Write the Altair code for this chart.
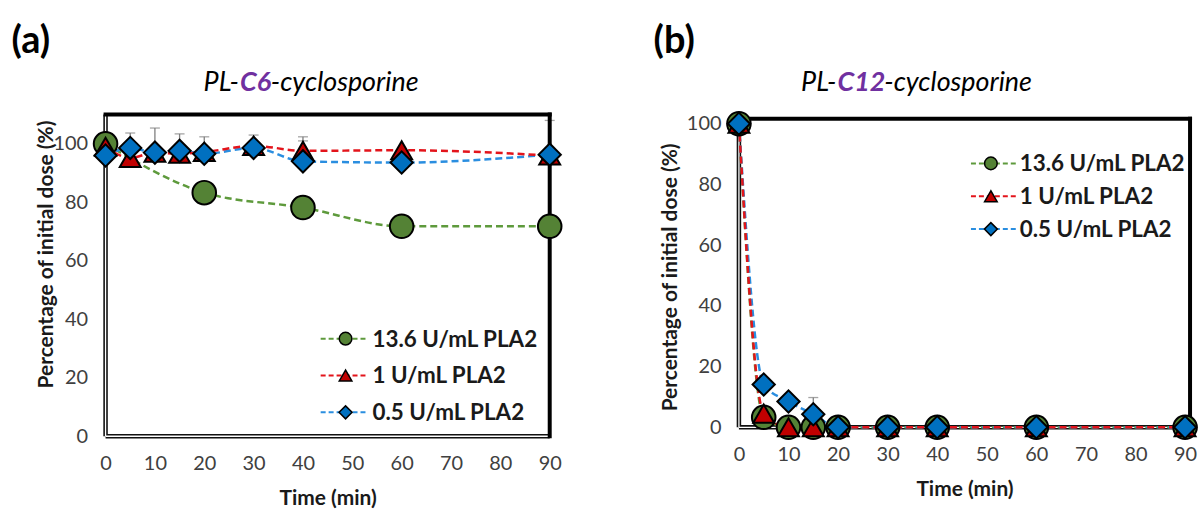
import altair as alt
import pandas as pd

# ---------------- data ----------------
SERIES = ["13.6 U/mL PLA2", "1 U/mL PLA2", "0.5 U/mL PLA2"]
MARKER_COLORS = ["#548235", "#C00000", "#0070C0"]
LINE_COLORS = ["#5E9A3C", "#E3141B", "#2A8EE0"]
SHAPES = ["circle", "triangle-up", "diamond"]
MARKER_SIZES = [560, 440, 500]
LEGEND_SIZES = [160, 160, 170]

X_TICKS = [0, 10, 20, 30, 40, 50, 60, 70, 80, 90]
Y_TICKS = [0, 20, 40, 60, 80, 100]

# Panel (a) PL-C6-cyclosporine
A_T_GREEN = [0, 20, 40, 60, 90]
A_GREEN = [100.0, 83.3, 78.2, 71.8, 71.8]
A_T = [0, 5, 10, 15, 20, 30, 40, 60, 90]
A_RED = [99.0, 95.2, 97.0, 96.6, 97.2, 99.3, 97.6, 97.8, 96.0]
A_RED_ERR = [0, 0, 0, 0, 0, 0, 3.4, 0, 12.0]
A_BLUE = [96.0, 98.6, 97.0, 97.6, 96.6, 98.6, 94.0, 93.6, 96.3]
A_BLUE_ERR = [0, 5.1, 8.4, 5.8, 5.8, 4.4, 8.4, 0, 0]

# Panel (b) PL-C12-cyclosporine
B_T = [0, 5, 10, 15, 20, 30, 40, 60, 90]
B_GREEN = [100.0, 3.3, 0, 0, 0, 0, 0, 0, 0]
B_RED = [100.0, 4.5, 0, 0, 0, 0, 0, 0, 0]
B_BLUE = [100.0, 14.1, 8.5, 4.3, 0, 0, 0, 0, 0]
B_BLUE_ERR = [0, 0, 0, 5.5, 0, 0, 0, 0, 0]

FONT = "Lato"


def series_df(ts, vals, errs=None):
    errs = errs if errs is not None else [0] * len(ts)
    return pd.DataFrame({"t": ts, "v": vals, "up": [v + e for v, e in zip(vals, errs)], "e": errs})


def make_panel(series_data, xmax, ymax, ytop, width, height, title_parts, tag, tag_pos,
               title_pos, legend_pos, ytitle_pos, anchor=False):
    xs = alt.Scale(domain=[0, xmax], nice=False, zero=False)
    ys = alt.Scale(domain=[0, ymax], nice=False, zero=False)
    x_axis = alt.Axis(values=X_TICKS, grid=False, domain=False, ticks=False, labelPadding=17,
                      title="Time (min)", titleY=63, titleBaseline="middle", labelFlush=False)
    y_axis = alt.Axis(values=Y_TICKS, grid=False, domain=False, ticks=False, labelPadding=18,
                      title="Percentage of initial dose (%)", titleX=ytitle_pos[0], titleY=ytitle_pos[1],
                      titleBaseline="middle", titleAlign="center", titleAngle=270)
    base = alt.Chart(pd.DataFrame({"k": [0]}))
    layers = []
    # axis-carrying invisible layer
    layers.append(base.mark_point(opacity=0).encode(
        x=alt.X("k:Q", scale=xs, axis=x_axis), y=alt.Y("k:Q", scale=ys, axis=y_axis)))
    # error bars (upper only)
    for i in range(3):
        df = series_data[i]
        dfe = df[df["e"] > 0]
        if len(dfe) == 0:
            continue
        layers.append(alt.Chart(dfe).mark_rule(color="#7F7F7F", strokeWidth=1.3).encode(
            x=alt.X("t:Q", scale=xs), y=alt.Y("v:Q", scale=ys), y2="up:Q"))
        layers.append(alt.Chart(dfe).mark_tick(color="#7F7F7F", orient="horizontal", size=10,
                                               thickness=1.3).encode(
            x=alt.X("t:Q", scale=xs), y=alt.Y("up:Q", scale=ys)))
    # left + bottom double lines
    for w, c in [(4.5, "#111111"), (1.3, "#ffffff")]:
        layers.append(base.mark_rule(strokeWidth=w, color=c).encode(
            x=alt.datum(0, scale=xs), y=alt.datum(0, scale=ys), y2=alt.datum(ytop)))
        layers.append(base.mark_rule(strokeWidth=w, color=c).encode(
            x=alt.datum(0, scale=xs), x2=alt.datum(xmax), y=alt.datum(0, scale=ys)))
    # top + right thick lines
    layers.append(base.mark_rule(strokeWidth=4, color="#000000", strokeCap="square").encode(
        x=alt.datum(0, scale=xs), x2=alt.datum(xmax), y=alt.datum(ytop, scale=ys)))
    layers.append(base.mark_rule(strokeWidth=4, color="#000000", strokeCap="square").encode(
        x=alt.datum(xmax, scale=xs), y=alt.datum(0, scale=ys), y2=alt.datum(ytop)))
    # lines: green, blue, red order
    for i in [0, 2, 1]:
        df = series_data[i]
        layers.append(alt.Chart(df).mark_line(color=LINE_COLORS[i], strokeWidth=2.5,
                                              strokeDash=[7, 4], interpolate="monotone").encode(
            x=alt.X("t:Q", scale=xs), y=alt.Y("v:Q", scale=ys)))
    # markers
    for i in range(3):
        df = series_data[i]
        layers.append(alt.Chart(df).mark_point(shape=SHAPES[i], filled=True, fill=MARKER_COLORS[i],
                                               stroke="#000000", strokeWidth=2, size=MARKER_SIZES[i],
                                               opacity=1).encode(
            x=alt.X("t:Q", scale=xs), y=alt.Y("v:Q", scale=ys)))
    # legend
    lx0, lx1, lxm, ltx, ly0, ldy = legend_pos
    for i, name in enumerate(SERIES):
        d = alt.Data(values=[{"label": name}])
        yy = ly0 + i * ldy
        layers.append(alt.Chart(d).mark_rule(color=LINE_COLORS[i], strokeWidth=2, strokeDash=[5, 3]).encode(
            x=alt.value(lx0), x2=alt.value(lx1), y=alt.value(yy)))
        layers.append(alt.Chart(d).mark_point(shape=SHAPES[i], filled=True, fill=MARKER_COLORS[i],
                                              stroke="#000000", strokeWidth=1.5, size=LEGEND_SIZES[i],
                                              opacity=1).encode(
            x=alt.value(lxm), y=alt.value(yy)))
        layers.append(alt.Chart(d).mark_text(align="left", baseline="middle", font=FONT, fontSize=22.5,
                                             fontWeight="bold", color="#1a1a1a").encode(
            x=alt.value(ltx), y=alt.value(yy + 1), text="label:N"))
    # title pieces
    (p1, p2, p3) = title_parts
    tx1, tx2, ty = title_pos
    layers.append(alt.Chart(alt.Data(values=[{"s": p1}])).mark_text(
        align="right", baseline="middle", font=FONT, fontSize=27, fontStyle="italic", color="#000000").encode(
        x=alt.value(tx1), y=alt.value(ty), text="s:N"))
    layers.append(alt.Chart(alt.Data(values=[{"s": p2}])).mark_text(
        align="left", baseline="middle", font=FONT, fontSize=27, fontStyle="italic", fontWeight="bold",
        color="#7030A0").encode(x=alt.value(tx1 + 1), y=alt.value(ty), text="s:N"))
    layers.append(alt.Chart(alt.Data(values=[{"s": p3}])).mark_text(
        align="left", baseline="middle", font=FONT, fontSize=27, fontStyle="italic", color="#000000").encode(
        x=alt.value(tx2), y=alt.value(ty), text="s:N"))
    # panel tag
    layers.append(alt.Chart(alt.Data(values=[{"s": tag}])).mark_text(
        align="center", baseline="middle", font=FONT, fontSize=38, fontWeight="bold", color="#000000").encode(
        x=alt.value(tag_pos[0]), y=alt.value(tag_pos[1]), text="s:N"))
    if anchor:
        layers.append(alt.Chart(alt.Data(values=[{"a": 1}])).mark_rect(color="#ffffff").encode(
            x=alt.value(-106), x2=alt.value(-105), y=alt.value(-114), y2=alt.value(-113)))
    return alt.layer(*layers).properties(width=width, height=height)


panel_a = make_panel(
    [series_df(A_T_GREEN, A_GREEN), series_df(A_T, A_RED, A_RED_ERR), series_df(A_T, A_BLUE, A_BLUE_ERR)],
    xmax=90, ymax=110, ytop=110, width=446, height=323,
    title_parts=("PL-", "C6", "-cyclosporine"), tag="(a)", tag_pos=(-75, -73),
    title_pos=(134, 166, -32), legend_pos=(216, 264, 241, 268, 225, 37), ytitle_pos=(-59, 140),
    anchor=True)

panel_b = make_panel(
    [series_df(B_T, B_GREEN), series_df(B_T, B_RED), series_df(B_T, B_BLUE, B_BLUE_ERR)],
    xmax=91, ymax=103, ytop=101.6, width=453, height=314,
    title_parts=("PL-", "C12", "-cyclosporine"), tag="(b)", tag_pos=(-65, -73),
    title_pos=(98, 146, -32), legend_pos=(233, 280, 253, 282, 49, 33), ytitle_pos=(-69, 163))

chart = alt.hconcat(panel_a, panel_b, spacing=190, bounds="flush").properties(
    padding=0, background="#ffffff"
).configure_view(stroke=None).configure_axis(
    labelFont=FONT, labelFontSize=20, labelColor="#404040",
    titleFont=FONT, titleFontSize=21, titleFontWeight="bold", titleColor="#1a1a1a"
)

chart.save("out.html", embed_options={"renderer": "svg", "actions": False})
